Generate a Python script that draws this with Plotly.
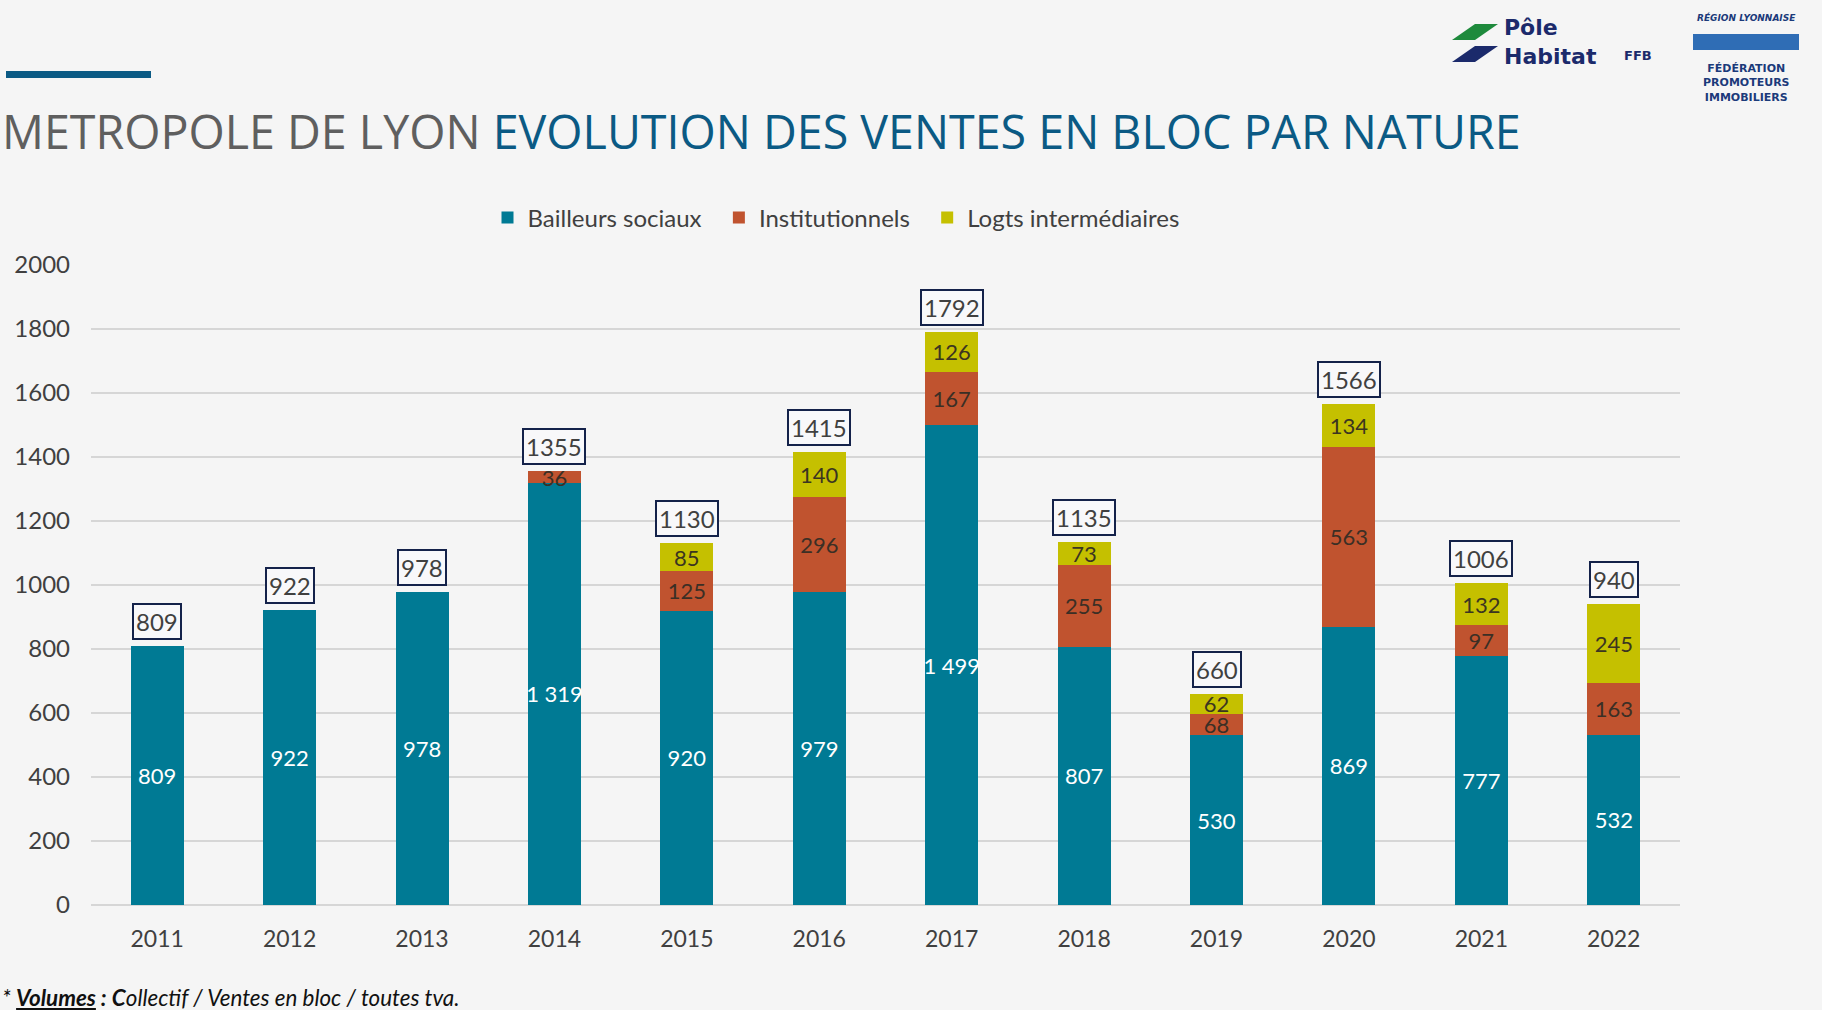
import plotly.graph_objects as go

years = ["2011", "2012", "2013", "2014", "2015", "2016", "2017", "2018", "2019", "2020", "2021", "2022"]
bailleurs = [809, 922, 978, 1319, 920, 979, 1499, 807, 530, 869, 777, 532]
institutionnels = [0, 0, 0, 36, 125, 296, 167, 255, 68, 563, 97, 163]
intermediaires = [0, 0, 0, 0, 85, 140, 126, 73, 62, 134, 132, 245]
totals = [809, 922, 978, 1355, 1130, 1415, 1792, 1135, 660, 1566, 1006, 940]

W, H = 1822, 1010
L, R, T, B = 91, 1680, 265, 905


def px(x):
    return (x - L) / (R - L)


def py(y):
    return (B - y) / (B - T)


def fmt(v):
    if v == 0:
        return ""
    return f"{v:,}".replace(",", " ")


fig = go.Figure()
series = [
    ("Bailleurs sociaux\u00a0\u00a0", bailleurs, "#007A94", "white"),
    ("Institutionnels\u00a0\u00a0", institutionnels, "#C0532F", "#3b2f25"),
    ("Logts intermédiaires", intermediaires, "#C5C000", "#3b3520"),
]
for name, vals, col, tcol in series:
    fig.add_trace(go.Bar(
        name=name, x=years, y=vals, marker=dict(color=col, line=dict(width=0)),
        text=[fmt(v) for v in vals], textposition="inside", insidetextanchor="middle",
        textangle=0, textfont=dict(family="Lato", size=22, color=tcol), cliponaxis=False,
    ))

for i, tot in enumerate(totals):
    fig.add_annotation(x=i, y=tot, xref="x", yref="y", text=str(tot), showarrow=False,
                       yanchor="bottom", yshift=6, font=dict(family="Lato", size=24, color="#404040"),
                       bordercolor="#14224a", borderwidth=2, borderpad=2, bgcolor="#f8f8fa")

# Title
fig.add_annotation(xref="paper", yref="paper", x=px(0), y=py(131), xanchor="left", yanchor="middle",
                   text="<span style='color:#5f5f5f'>METROPOLE DE LYON </span>"
                        "<span style='color:#0b5a84'>EVOLUTION DES VENTES EN BLOC PAR NATURE</span>",
                   showarrow=False, font=dict(family="Open Sans", size=46.6))
fig.add_shape(type="rect", xref="paper", yref="paper", x0=px(6), x1=px(151), y0=py(71), y1=py(78),
              fillcolor="#0b5a84", line=dict(width=0))

# Footnote
fig.add_annotation(xref="paper", yref="paper", x=px(0), y=py(997), xanchor="left", yanchor="middle",
                   text="<i>* <b><u>Volumes</u> :</b> <b>C</b>ollectif / Ventes en bloc / toutes tva.</i>",
                   showarrow=False, font=dict(family="Lato", size=22.4, color="#111111"))

# Logos (approximated with text)
fig.add_annotation(xref="paper", yref="paper", x=px(1502), y=py(42), xanchor="left", yanchor="middle",
                   text="<b>Pôle<br>Habitat</b>", showarrow=False, align="left",
                   font=dict(family="DejaVu Sans", size=22, color="#1b2a6b"))
fig.add_annotation(xref="paper", yref="paper", x=px(1622), y=py(55), xanchor="left", yanchor="middle",
                   text="<b>FFB</b>", showarrow=False, font=dict(family="DejaVu Sans", size=13, color="#1b2a6b"))
fig.add_shape(type="path", xref="paper", yref="paper",
              path=f"M {px(1452)} {py(40)} L {px(1475)} {py(24)} L {px(1498)} {py(24)} L {px(1475)} {py(40)} Z",
              fillcolor="#1e8a3c", line=dict(width=0))
fig.add_shape(type="path", xref="paper", yref="paper",
              path=f"M {px(1452)} {py(62)} L {px(1475)} {py(46)} L {px(1498)} {py(46)} L {px(1475)} {py(62)} Z",
              fillcolor="#1b2a6b", line=dict(width=0))
fig.add_annotation(xref="paper", yref="paper", x=px(1746), y=py(17), xanchor="center", yanchor="middle",
                   text="<b><i>RÉGION LYONNAISE</i></b>", showarrow=False,
                   font=dict(family="DejaVu Sans", size=9, color="#1b3a7a"))
fig.add_shape(type="rect", xref="paper", yref="paper", x0=px(1693), x1=px(1799), y0=py(34), y1=py(50),
              fillcolor="#2f6db5", line=dict(width=0))
fig.add_annotation(xref="paper", yref="paper", x=px(1746), y=py(83), xanchor="center", yanchor="middle",
                   text="<b>FÉDÉRATION<br>PROMOTEURS<br>IMMOBILIERS</b>", showarrow=False,
                   font=dict(family="DejaVu Sans", size=11, color="#1b3a7a"))

fig.update_layout(
    width=W, height=H, barmode="stack", bargap=0.6,
    paper_bgcolor="#f5f5f5", plot_bgcolor="#f5f5f5",
    margin=dict(l=L, r=W - R, t=T, b=H - B, autoexpand=False),
    font=dict(family="Lato", size=22, color="#404040"),
    uniformtext=dict(minsize=22, mode="show"),
    showlegend=True,
    legend=dict(orientation="h", x=px(836), y=py(218), xanchor="center", yanchor="middle",
                font=dict(family="Lato", size=24, color="#404040"), bgcolor="rgba(0,0,0,0)",
                itemclick=False, traceorder="normal"),
    xaxis=dict(type="category", range=[-0.5, len(years) - 0.5], showgrid=False, showline=False, ticks="",
               tickfont=dict(size=23, color="#404040"), ticklabelstandoff=18),
    yaxis=dict(range=[0, 2000], dtick=200, showgrid=True, gridcolor="#d6d6d6", gridwidth=1.5,
               zeroline=True, zerolinecolor="#d6d6d6", zerolinewidth=1.5, showline=False, ticks="",
               tickfont=dict(size=24, color="#404040"), ticklabelstandoff=20),
)

fig.write_html("out.html")
